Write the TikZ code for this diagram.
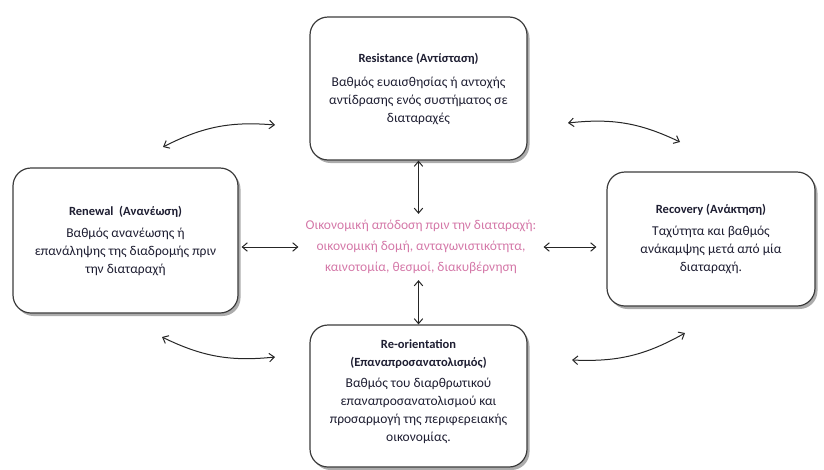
\documentclass[tikz,border=0pt]{standalone}
\usepackage{fontspec}
\setmainfont{Carlito}
\usetikzlibrary{arrows.meta,shadows,positioning}
\definecolor{boxline}{RGB}{60,60,60}
\definecolor{boxtext}{RGB}{30,30,50}
\definecolor{coretext}{RGB}{212,120,168}
\tikzset{
  phasebox/.style={draw=boxline, line width=1.2pt, rounded corners=18pt, fill=white,
    align=center, text=boxtext, font=\fontsize{13.5}{18}\selectfont,
    drop shadow={shadow xshift=2.5pt, shadow yshift=-3pt, opacity=0.5, fill=black!65}},
  link/.style={{Straight Barb[length=5pt,width=8.5pt]}-{Straight Barb[length=5pt,width=8.5pt]}, line width=1pt, black!85}
}
\newcommand{\boxtitle}[1]{{\bfseries\fontsize{12.5}{17}\selectfont #1}}
\begin{document}
\begin{tikzpicture}[x=1pt,y=-1pt]
\useasboundingbox (0,0) rectangle (824,469);

% four phases around the core
\node[phasebox, minimum width=217pt, minimum height=143pt] (res) at (418.5,88.5)
  {\boxtitle{Resistance (Αντίσταση)}\\[6pt]
   Βαθμός ευαισθησίας ή αντοχής\\αντίδρασης ενός συστήματος σε\\διαταραχές};
\node[phasebox, minimum width=225pt, minimum height=145pt] (ren) at (125.5,240.5)
  {\boxtitle{Renewal\ \ (Ανανέωση)}\\[4pt]
   Βαθμός ανανέωσης ή\\επανάληψης της διαδρομής πριν\\την διαταραχή};
\node[phasebox, minimum width=208pt, minimum height=134pt] (rec) at (711,239)
  {\boxtitle{Recovery (Ανάκτηση)}\\[4pt]
   Ταχύτητα και βαθμός\\ανάκαμψης μετά από μία\\διαταραχή.};
\node[phasebox, minimum width=217pt, minimum height=142pt] (reo) at (418.5,396)
  {\boxtitle{Re-orientation}\\\boxtitle{(Επαναπροσανατολισμός)}\\[3pt]
   Βαθμός του διαρθρωτικού\\επαναπροσανατολισμού και\\προσαρμογή της περιφερειακής\\οικονομίας.\\[-8pt]\mbox{}};

% core: economic performance before the disturbance
\node[align=center, text=coretext, font=\fontsize{13.5}{21}\selectfont,
      inner xsep=7pt, inner ysep=6pt] (core) at (421,247)
  {Οικονομική απόδοση πριν την διαταραχή:\\
   οικονομική δομή, ανταγωνιστικότητα,\\
   καινοτομία, θεσμοί, διακυβέρνηση};

% straight links between the core and the phases
\draw[link] (res.south) -- (res.south |- core.north);
\draw[link] (reo.north) -- (reo.north |- core.south);
\draw[link, shorten <=3pt] (ren.east |- core.west) -- (core.west);
\draw[link, shorten >=10pt] (core.east) -- (rec.west |- core.east);

% curved links between neighbouring phases
\coordinate (tl1) at (163,147);
\coordinate (tl2) at (275,125);
\coordinate (tr1) at (568,123);
\coordinate (tr2) at (680,142);
\coordinate (bl1) at (162,337);
\coordinate (bl2) at (275,357);
\coordinate (br1) at (572,360);
\coordinate (br2) at (685,333);
\draw[link] (tl1) to[bend left=16] (tl2);
\draw[link] (tr1) to[bend left=16] (tr2);
\draw[link] (bl1) to[bend right=16] (bl2);
\draw[link] (br1) to[bend right=16] (br2);
\end{tikzpicture}
\end{document}
